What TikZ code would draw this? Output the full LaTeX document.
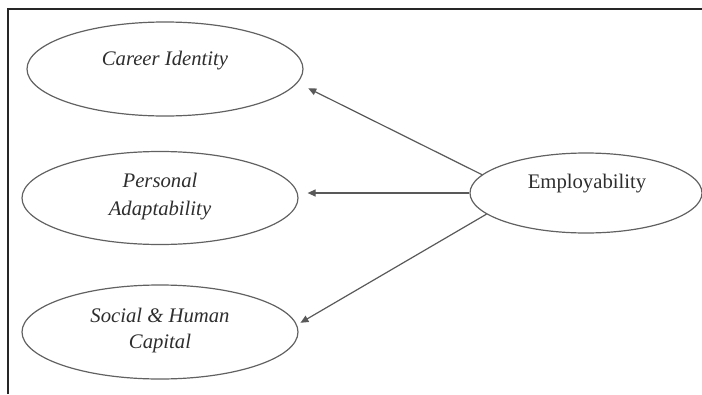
\documentclass[tikz,border=0pt]{standalone}
\usepackage{fontspec}
\setmainfont{Liberation Serif}
\usetikzlibrary{shapes.geometric,arrows.meta}
\begin{document}
\begin{tikzpicture}[x=1pt,y=-1pt,
  oval/.style={ellipse,draw=black!62,line width=1.2pt,inner sep=0pt},
  lbl/.style={text=black!82,font=\fontsize{20.7}{27}\selectfont,align=center,inner sep=0pt},
  arr/.style={draw=black!65,line width=1.2pt,-{Triangle[length=8pt,width=7pt]}},
  frame/.style={draw=black!85,line width=1.6pt}]
\useasboundingbox (0,0) rectangle (702,394);
\draw[frame] (8,394) -- (8,9) -- (703,9);
\node[oval,minimum width=276pt,minimum height=94pt] (ci) at (165,69) {};
\node[oval,minimum width=276pt,minimum height=93pt] (pa) at (160,198) {};
\node[oval,minimum width=276pt,minimum height=94pt] (sh) at (160,332) {};
\node[oval,minimum width=232pt,minimum height=80pt] (emp) at (586,193) {};
\node[lbl,font=\fontsize{20.7}{27}\selectfont\itshape] (tci) at (165,61) {Career Identity};
\node[lbl,font=\fontsize{20.7}{28}\selectfont\itshape] (tpa) at (160,197) {Personal\\Adaptability};
\node[lbl,font=\fontsize{20.7}{26}\selectfont\itshape] (tsh) at (160,331) {Social \& Human\\Capital};
\node[lbl] (temp) at (587,184) {Employability};
\draw[arr,shorten >=12pt] (emp.170) -- (ci.-6.5);
\draw[arr,shorten >=9pt] (emp.west) -- (emp.west -| pa.east);
\draw[arr,shorten >=4pt] (emp.192) -- (sh.3.3);
\end{tikzpicture}
\end{document}
